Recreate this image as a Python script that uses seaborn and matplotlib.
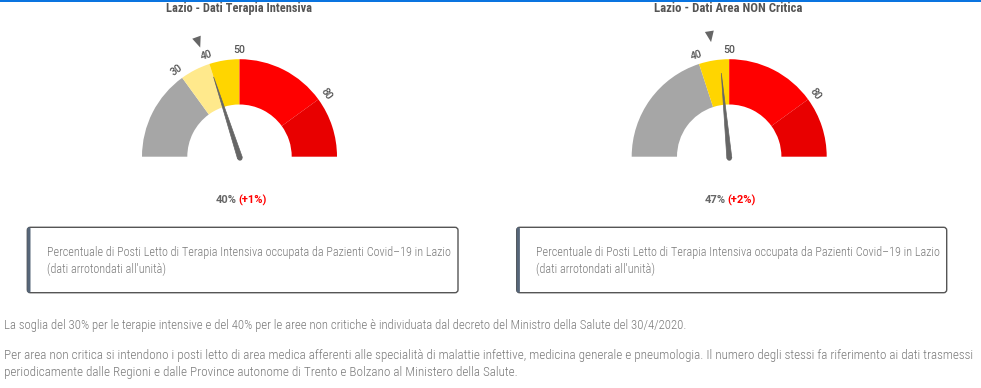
import numpy as np
import matplotlib
matplotlib.use("Agg")
import matplotlib.pyplot as plt
from matplotlib.patches import Wedge, Polygon, Circle, FancyBboxPatch, Rectangle
from matplotlib import font_manager as fm
import seaborn as sns

# ---------------- data ----------------
titles = ["Lazio - Dati Terapia Intensiva", "Lazio - Dati Area NON Critica"]
left_bounds = [0, 30, 40, 50, 80, 100]
left_colors = ["#a6a6a6", "#ffe98c", "#ffd500", "#ff0000", "#e80000"]
left_ticks = [30, 40, 50, 80]
right_bounds = [0, 40, 50, 80, 100]
right_colors = ["#a6a6a6", "#ffd500", "#ff0000", "#e80000"]
right_ticks = [40, 50, 80]
values = [40, 47]          # current occupancy %
changes = [1, 2]           # change vs previous
previous = [39, 45]        # previous value (triangle marker)
box_line1 = "Percentuale di Posti Letto di Terapia Intensiva occupata da Pazienti Covid–19 in Lazio"
box_line2 = "(dati arrotondati all'unità)"
note1 = ("La soglia del 30% per le terapie intensive e del 40% per le aree non critiche è individuata "
         "dal decreto del Ministro della Salute del 30/4/2020.")
note2 = ("Per area non critica si intendono i posti letto di area medica afferenti alle specialità di "
         "malattie infettive, medicina generale e pneumologia. Il numero degli stessi fa riferimento ai dati trasmessi")
note3 = ("periodicamente dalle Regioni e dalle Province autonome di Trento e Bolzano al Ministero della Salute.")

# ---------------- style ----------------
sns.set_theme(style="white")
names = {f.name for f in fm.fontManager.ttflist}
FONT = "DejaVu Sans"
for cand in ["Roboto Condensed", "Liberation Sans Narrow", "Open Sans Condensed", "Roboto", "Lato"]:
    if cand in names:
        FONT = cand
        break
NUMFONT = "Roboto" if "Roboto" in names else FONT
plt.rcParams["font.family"] = [FONT, "DejaVu Sans"]

W, H = 981, 388
fig = plt.figure(figsize=(W / 100, H / 100), dpi=100)
ax = fig.add_axes([0, 0, 1, 1])
ax.set_xlim(0, W)
ax.set_ylim(H, 0)
ax.axis("off")
renderer = fig.canvas.get_renderer()


def fit(t, w):
    bb = t.get_window_extent(renderer)
    if bb.width > 0:
        t.set_fontsize(t.get_fontsize() * w / bb.width)
    return t


def pt(cx, cy, v, r):
    a = np.radians(180 - 1.8 * v)
    return cx + r * np.cos(a), cy - r * np.sin(a)


# top blue line
ax.add_patch(Rectangle((0, 0), W, 1.8, color="#0a74e0", lw=0))

centers = [(239.5, 156.7), (729.2, 156.7)]
R_OUT, R_IN = 97.5, 52.2
bounds_list = [left_bounds, right_bounds]
colors_list = [left_colors, right_colors]
ticks_list = [left_ticks, right_ticks]
TXT = "#7a7a7a"

for i in range(2):
    cx, cy = centers[i]
    # title
    t = ax.text(cx - 1, 8.5, titles[i], ha="center", va="center", fontsize=8,
                fontweight="bold", color="#555555")
    fit(t, 146 if i == 0 else 148)
    # segments
    b = bounds_list[i]
    for v0, v1, c in zip(b[:-1], b[1:], colors_list[i]):
        a0 = 180 - 1.8 * v0
        a1 = 180 - 1.8 * v1
        ax.add_patch(Wedge((cx, cy), R_OUT, -a0, -a1, width=R_OUT - R_IN,
                           facecolor=c, edgecolor="none"))
    # tick labels
    for v in ticks_list[i]:
        x, y = pt(cx, cy, v, 107)
        ax.text(x, y, str(v), ha="center", va="center", rotation=90 - 1.8 * v,
                rotation_mode="anchor", fontsize=7.6, color="#555555",
                family=[NUMFONT, "DejaVu Sans"], fontweight="medium")
    # needle
    v = values[i]
    a = np.radians(180 - 1.8 * v)
    d = np.array([np.cos(a), -np.sin(a)])
    p = np.array([np.sin(a), np.cos(a)])
    c0 = np.array([cx, cy]) + d * (-1.5)
    tip = np.array(pt(cx, cy, v, 84))
    ax.add_patch(Polygon([tip, c0 + 2.5 * p, c0 - 2.5 * p], closed=True,
                         facecolor="#666666", edgecolor="#666666", lw=0.5))
    ax.add_patch(Circle(tuple(c0), 2.5, facecolor="#666666", edgecolor="none"))
    # previous value triangle
    pv = previous[i]
    a = np.radians(180 - 1.8 * pv)
    p = np.array([np.sin(a), np.cos(a)])
    ttip = np.array(pt(cx, cy, pv, 116))
    tb = np.array(pt(cx, cy, pv, 127))
    ax.add_patch(Polygon([ttip, tb + 4.5 * p, tb - 4.5 * p], closed=True,
                         facecolor="#666666", edgecolor="none"))
    # percent text
    ax.text(cx - 3.0, 200, f"{values[i]}%", ha="right", va="center", fontsize=8,
            fontweight="bold", color="#666666", family=[NUMFONT, "DejaVu Sans"])
    ax.text(cx - 1.5, 200, f"(+{changes[i]}%)", ha="left", va="center", fontsize=8,
            fontweight="bold", color="#ff0000", family=[NUMFONT, "DejaVu Sans"])

# boxes
boxes = [(27.3, 458.0, 46.7), (516.7, 946.7, 536.0)]
for x0, x1, tx in boxes:
    ax.add_patch(FancyBboxPatch((x0, 227.3), x1 - x0, 292.7 - 227.3,
                                boxstyle="round,pad=0,rounding_size=3",
                                facecolor="white", edgecolor="#555555", lw=1.0))
    ax.add_patch(FancyBboxPatch((x0, 227.3), 3.2, 292.7 - 227.3,
                                boxstyle="round,pad=0,rounding_size=1.5",
                                facecolor="#566679", edgecolor="none"))
    t1 = ax.text(tx, 252.7, box_line1, ha="left", va="center", fontsize=7.5, color=TXT,
                 fontweight="light")
    fit(t1, 403)
    ax.text(tx, 269.3, box_line2, ha="left", va="center", fontsize=t1.get_fontsize(),
            color=TXT, fontweight="light")

# notes
n1 = ax.text(4, 325.5, note1, ha="left", va="center", fontsize=7.5, color=TXT, fontweight="light")
fit(n1, 686)
n2 = ax.text(4, 356, note2, ha="left", va="center", fontsize=7.5, color=TXT, fontweight="light")
fit(n2, 966)
ax.text(4, 372.5, note3, ha="left", va="center", fontsize=n2.get_fontsize(), color=TXT,
        fontweight="light")

fig.savefig("out.png", dpi=100, facecolor="white")
